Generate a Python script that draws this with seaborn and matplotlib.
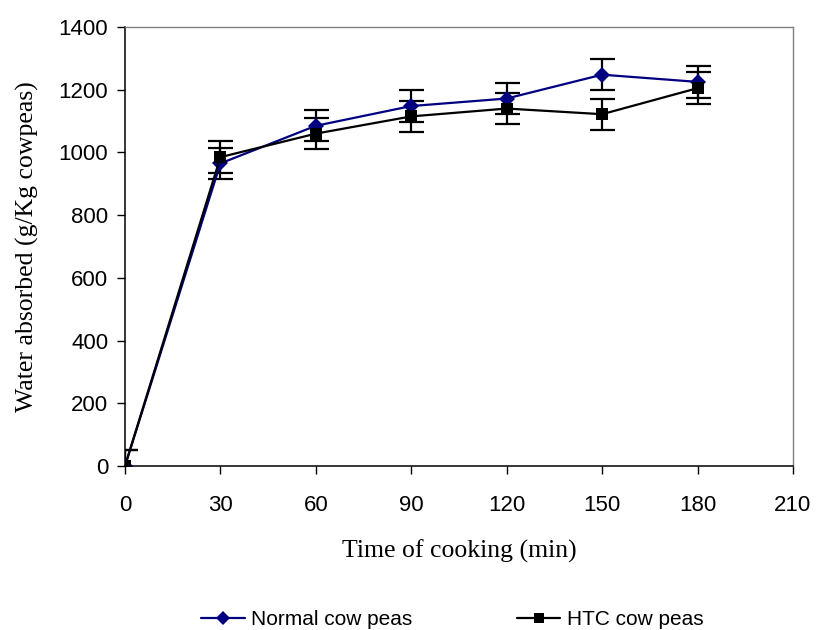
import matplotlib
matplotlib.use("Agg")
import matplotlib.pyplot as plt
import seaborn as sns
import pandas as pd

time_min = [0, 30, 60, 90, 120, 150, 180]
normal = [0, 965, 1085, 1148, 1172, 1248, 1225]
htc = [0, 985, 1060, 1115, 1140, 1122, 1205]
normal_err = [50, 50, 50, 50, 50, 50, 50]
htc_err = [50, 50, 50, 50, 50, 50, 50]
series_names = ["Normal cow peas", "HTC cow peas"]

df = pd.DataFrame({
    "time": time_min * 2,
    "water": normal + htc,
    "series": [series_names[0]] * len(time_min) + [series_names[1]] * len(time_min),
})

sns.set_style("ticks")
plt.rcParams["font.family"] = ["Liberation Sans", "DejaVu Sans"]

fig = plt.figure(figsize=(8.18, 6.3), dpi=100)
ax = fig.add_axes([0.1528, 0.2603, 0.8166, 0.6968])

colors = {series_names[0]: "#000080", series_names[1]: "#000000"}
markers = {series_names[0]: "D", series_names[1]: "s"}

ax.errorbar(time_min, normal, yerr=normal_err, fmt="none", ecolor="black",
            elinewidth=1.6, capsize=9, capthick=1.6, zorder=2)
ax.errorbar(time_min, htc, yerr=htc_err, fmt="none", ecolor="black",
            elinewidth=1.6, capsize=9, capthick=1.6, zorder=2)

sns.lineplot(data=df, x="time", y="water", hue="series", style="series",
             palette=colors, markers=markers, dashes=False, linewidth=1.6,
             markersize=8.5, markeredgewidth=0, ax=ax, legend=False, zorder=3)

ax.set_xlim(0, 210)
ax.set_ylim(0, 1400)
ax.set_xticks(range(0, 211, 30))
ax.set_yticks(range(0, 1401, 200))
ax.tick_params(axis="both", labelsize=16, direction="out", length=6,
               width=1, color="black", labelcolor="black")
ax.tick_params(axis="y", pad=6)
ax.tick_params(axis="x", pad=15)
ax.margins(0)

for side in ["left", "bottom"]:
    ax.spines[side].set_color("black")
    ax.spines[side].set_linewidth(1.1)
for side in ["top", "right"]:
    ax.spines[side].set_visible(True)
    ax.spines[side].set_color("#808080")
    ax.spines[side].set_linewidth(1.0)

ax.set_xlabel("Time of cooking (min)", family="Liberation Serif", fontsize=18.5,
              labelpad=17, color="black")
ax.set_ylabel("Water absorbed (g/Kg cowpeas)", family="Liberation Serif", fontsize=18.5,
              labelpad=14, color="black")

handles = [
    plt.Line2D([], [], color="#000080", marker="D", markersize=7.5, linewidth=1.6, markeredgewidth=0),
    plt.Line2D([], [], color="black", marker="s", markersize=7.5, linewidth=1.6, markeredgewidth=0),
]
fig.legend(handles, series_names, loc="center", bbox_to_anchor=(0.553, 0.016),
           ncol=2, frameon=False, fontsize=15, columnspacing=5.0, handlelength=2.1,
           handletextpad=0.3, labelcolor="black")

fig.savefig("out.png", dpi=100)
